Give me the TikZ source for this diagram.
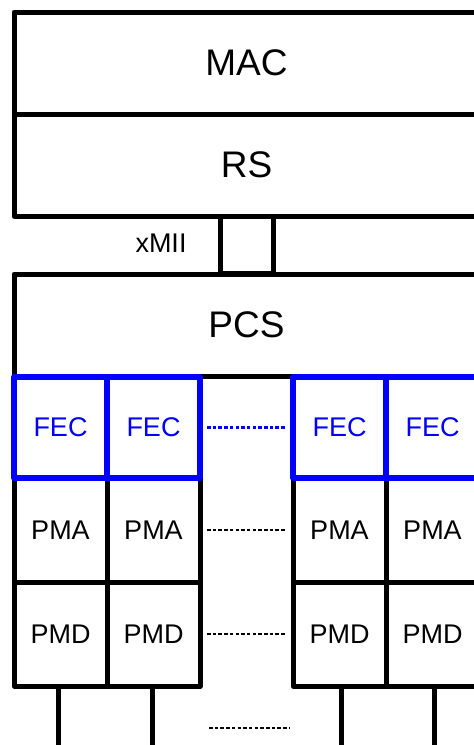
\documentclass[tikz,border=0pt]{standalone}
\usepackage{fontspec}
\setmainfont{Liberation Sans}
\usepackage{tikz}
\usetikzlibrary{positioning}
\definecolor{LayerBlack}{HTML}{000000}
\definecolor{LayerWhite}{HTML}{ffffff}
\definecolor{FecBlue}{HTML}{0000ff}
\tikzset{
    % Base layer box
    layerbox/.style={
        draw=LayerBlack,
        fill=LayerWhite,
        line width=5pt,
        line join=round,
        inner sep=0pt,
        outer sep=0pt,
        font=\fontsize{37}{40}\selectfont
    },
    % Full width sublayer
    widebox/.style={
        layerbox,
        minimum width=465pt,
        minimum height=102pt
    },
    % One lane of the PHY
    lanebox/.style={
        layerbox,
        minimum width=93pt,
        minimum height=104pt,
        font=\fontsize{27}{30}\selectfont
    },
    % FEC lane
    fecbox/.style={
        lanebox,
        draw=FecBlue,
        text=FecBlue,
        line width=5.5pt,
        minimum height=101pt
    },
    % Interface stub
    stubbox/.style={
        layerbox,
        minimum width=53pt,
        minimum height=57pt
    },
    % Medium connection
    legline/.style={
        line width=5pt,
        draw=LayerBlack
    },
    % Ellipsis between lanes
    dotline/.style={
        line width=2pt,
        dash pattern=on 3.5pt off 2.2pt,
        draw=LayerBlack
    },
    % Ellipsis between FEC lanes
    fecdotline/.style={
        dotline,
        line width=2.4pt,
        draw=FecBlue
    }
}
\begin{document}
\begin{tikzpicture}[x=1pt,y=-1pt]
    \useasboundingbox (0,0) rectangle (474,745);
    \clip (0,0) rectangle (474,745);

    \node[stubbox] (xmii) at (246.5,244.5) {};
    \node[font=\fontsize{27}{30}\selectfont] (xmiilabel) at (161,243) {xMII};

    \node[widebox] (mac) at (246.5,63) {MAC};
    \node[widebox] (rs) at (246.5,165) {RS};
    \node[widebox] (pcs) at (246.5,325) {PCS};

    \node[lanebox] (pma1) at (60.5,530) {PMA};
    \node[lanebox] (pma2) at (153.5,530) {PMA};
    \node[lanebox] (pma3) at (339.5,530) {PMA};
    \node[lanebox] (pma4) at (432.5,530) {PMA};

    \node[lanebox] (pmd1) at (60.5,634) {PMD};
    \node[lanebox] (pmd2) at (153.5,634) {PMD};
    \node[lanebox] (pmd3) at (339.5,634) {PMD};
    \node[lanebox] (pmd4) at (432.5,634) {PMD};

    \node[fecbox] (fec1) at (60.5,427.5) {FEC};
    \node[fecbox] (fec2) at (153.5,427.5) {FEC};
    \node[fecbox] (fec3) at (339.5,427.5) {FEC};
    \node[fecbox] (fec4) at (432.5,427.5) {FEC};

    \coordinate (leg1) at (58,750);
    \coordinate (leg2) at (152,750);
    \coordinate (leg3) at (341,750);
    \coordinate (leg4) at (434,750);
    \draw[legline] (pmd1.south -| leg1) -- (leg1);
    \draw[legline] (pmd2.south -| leg2) -- (leg2);
    \draw[legline] (pmd3.south -| leg3) -- (leg3);
    \draw[legline] (pmd4.south -| leg4) -- (leg4);

    \draw[fecdotline] ([xshift=7pt]fec2.east) -- ([xshift=-7pt]fec3.west);
    \draw[dotline] ([xshift=7pt]pma2.east) -- ([xshift=-7pt]pma3.west);
    \draw[dotline] ([xshift=7pt]pmd2.east) -- ([xshift=-7pt]pmd3.west);
    \coordinate (dots1) at (209,728);
    \coordinate (dots2) at (290,728);
    \draw[dotline] (dots1) -- (dots2);
\end{tikzpicture}
\end{document}
